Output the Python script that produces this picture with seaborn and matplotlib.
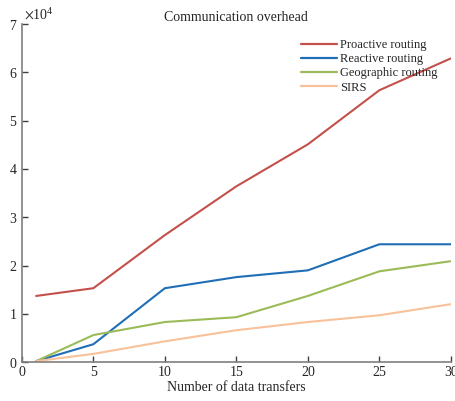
import matplotlib
matplotlib.use("Agg")
import matplotlib.pyplot as plt
import seaborn as sns
import pandas as pd

x_vals = [1, 5, 10, 15, 20, 25, 30]
proactive = [13700, 15300, 26300, 36400, 45100, 56300, 62900]
reactive = [200, 3700, 15300, 17600, 19000, 24400, 24400]
geographic = [200, 5600, 8300, 9300, 13700, 18800, 20900]
sirs = [200, 1700, 4300, 6600, 8300, 9700, 12000]
series_names = ["Proactive routing", "Reactive routing", "Geographic routing", "SIRS"]
colors = ["#C4504C", "#1F6EB6", "#9BBB59", "#F9C19A"]

rows = []
for name, vals in zip(series_names, [proactive, reactive, geographic, sirs]):
    for xv, yv in zip(x_vals, vals):
        rows.append({"x": xv, "y": yv, "series": name})
df = pd.DataFrame(rows)

sns.set_style("white")
plt.rcParams["font.family"] = ["Liberation Serif", "DejaVu Serif"]
plt.rcParams["mathtext.fontset"] = "stix"

fig = plt.figure(figsize=(4.55, 4.01), dpi=100)
ax = fig.add_axes([0.048, 0.097, 0.943, 0.843])
sns.lineplot(data=df, x="x", y="y", hue="series", palette=colors,
             hue_order=series_names, linewidth=1.5, ax=ax)

ax.set_xlim(0, 30)
ax.set_ylim(0, 70000)
ax.set_xticks([0, 5, 10, 15, 20, 25, 30])
ax.set_yticks([0, 10000, 20000, 30000, 40000, 50000, 60000, 70000])
ax.ticklabel_format(axis="y", style="sci", scilimits=(4, 4), useMathText=True)
off = ax.yaxis.get_offset_text()
off.set_fontsize(10)
off.set_x(0.005)
ax.set_xlabel("Number of data transfers", fontsize=10, labelpad=1)
ax.set_ylabel("")
ax.set_title("Communication overhead", fontsize=10, pad=2)
for s in ["top", "right"]:
    ax.spines[s].set_visible(False)
for s in ["left", "bottom"]:
    ax.spines[s].set_color("#7f7f7f")
    ax.spines[s].set_linewidth(1.2)
ax.tick_params(direction="in", length=4, width=1, color="#404040", labelsize=10, pad=3, bottom=True, left=True)
ax.grid(False)
leg = ax.legend(loc="upper right", frameon=False, fontsize=9, handlelength=2.9,
                handletextpad=0.2, labelspacing=0.18, borderaxespad=0.2,
                bbox_to_anchor=(0.986, 0.978))
for line in leg.get_lines():
    line.set_linewidth(1.6)

fig.savefig("out.png", dpi=100)
